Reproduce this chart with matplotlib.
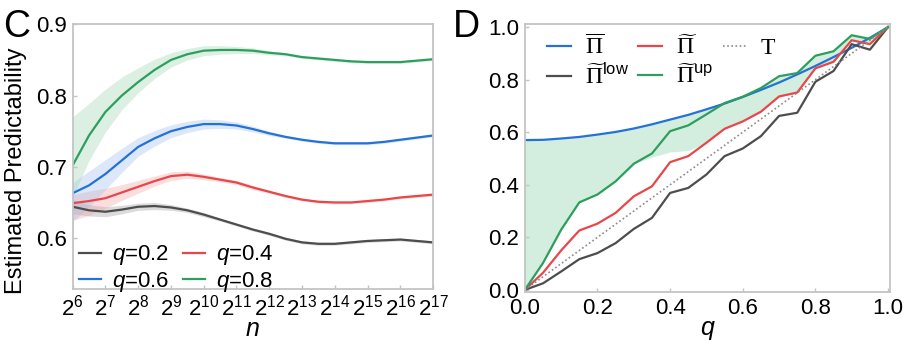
import numpy as np
import matplotlib
matplotlib.use("Agg")
import matplotlib.pyplot as plt

plt.rcParams['font.family'] = ['Liberation Sans', 'DejaVu Sans']
plt.rcParams['mathtext.fontset'] = 'custom'
plt.rcParams['mathtext.rm'] = 'Liberation Serif'
plt.rcParams['mathtext.it'] = 'Liberation Sans:italic'
plt.rcParams['mathtext.sf'] = 'Liberation Sans'
plt.rcParams['mathtext.bf'] = 'Liberation Sans:bold'

# ---------------- Panel C data ----------------
log2_n = [6, 6.5, 7, 7.5, 8, 8.5, 9, 9.5, 10, 10.5, 11, 11.5, 12, 12.5,
          13, 13.5, 14, 14.5, 15, 15.5, 16, 16.5, 17]
q_labels = ['0.2', '0.4', '0.6', '0.8']
pred_q02 = [0.644, 0.639, 0.637, 0.640, 0.644, 0.645, 0.643, 0.639, 0.633, 0.626,
            0.619, 0.612, 0.606, 0.599, 0.594, 0.592, 0.592, 0.594, 0.596, 0.597,
            0.598, 0.596, 0.594]
pred_q04 = [0.649, 0.652, 0.656, 0.664, 0.672, 0.680, 0.687, 0.689, 0.686, 0.682,
            0.678, 0.671, 0.665, 0.659, 0.654, 0.651, 0.650, 0.650, 0.652, 0.654,
            0.657, 0.659, 0.661]
pred_q06 = [0.663, 0.674, 0.690, 0.709, 0.728, 0.740, 0.750, 0.756, 0.760, 0.760,
            0.758, 0.753, 0.747, 0.742, 0.738, 0.735, 0.733, 0.733, 0.733, 0.735,
            0.738, 0.741, 0.744]
pred_q08 = [0.702, 0.744, 0.777, 0.800, 0.819, 0.836, 0.850, 0.858, 0.863, 0.864,
            0.864, 0.863, 0.860, 0.858, 0.854, 0.852, 0.850, 0.848, 0.847, 0.847,
            0.847, 0.849, 0.851]
# band extents (below / above the line)
low_q02 = [0.010, 0.008, 0.007, 0.006, 0.005, 0.005, 0.004, 0.003, 0.003, 0.002, 0.002, 0.002,
           0.002, 0.002, 0.002, 0.002, 0.002, 0.002, 0.002, 0.002, 0.002, 0.002, 0.002]
up_q02 = low_q02
low_q04 = [0.024, 0.020, 0.014, 0.011, 0.009, 0.007, 0.006, 0.005, 0.004, 0.003, 0.003, 0.003,
           0.002, 0.002, 0.002, 0.002, 0.002, 0.002, 0.002, 0.002, 0.002, 0.002, 0.002]
up_q04 = [0.012, 0.014, 0.014, 0.011, 0.009, 0.007, 0.006, 0.005, 0.004, 0.003, 0.003, 0.003,
          0.002, 0.002, 0.002, 0.002, 0.002, 0.002, 0.002, 0.002, 0.002, 0.002, 0.002]
low_q06 = [0.040, 0.030, 0.022, 0.017, 0.013, 0.011, 0.009, 0.008, 0.007, 0.006, 0.005, 0.004,
           0.003, 0.002, 0.002, 0.002, 0.002, 0.002, 0.002, 0.002, 0.002, 0.002, 0.002]
up_q06 = [0.015, 0.020, 0.020, 0.017, 0.013, 0.011, 0.009, 0.008, 0.007, 0.006, 0.005, 0.004,
          0.003, 0.002, 0.002, 0.002, 0.002, 0.002, 0.002, 0.002, 0.002, 0.002, 0.002]
low_q08 = [0.045, 0.035, 0.028, 0.020, 0.015, 0.012, 0.010, 0.008, 0.007, 0.006, 0.005, 0.004,
           0.003, 0.002, 0.002, 0.002, 0.002, 0.002, 0.002, 0.002, 0.002, 0.002, 0.002]
up_q08 = [0.068, 0.045, 0.032, 0.026, 0.020, 0.015, 0.010, 0.008, 0.007, 0.006, 0.005, 0.004,
          0.003, 0.002, 0.002, 0.002, 0.002, 0.002, 0.002, 0.002, 0.002, 0.002, 0.002]
xtick_exp = list(range(6, 18))
yticks_C = [0.6, 0.7, 0.8, 0.9]

# ---------------- Panel D data ----------------
q_vals = [0.0, 0.05, 0.1, 0.15, 0.2, 0.25, 0.3, 0.35, 0.4, 0.45, 0.5, 0.55,
          0.6, 0.65, 0.7, 0.75, 0.8, 0.85, 0.9, 0.95, 1.0]
pi_bar = [0.570, 0.571, 0.576, 0.582, 0.591, 0.601, 0.614, 0.630, 0.648, 0.666, 0.687,
          0.709, 0.734, 0.761, 0.789, 0.820, 0.852, 0.886, 0.921, 0.959, 1.0]
pi_tilde = [0.0, 0.065, 0.150, 0.226, 0.252, 0.293, 0.356, 0.394, 0.486, 0.509, 0.560,
            0.613, 0.641, 0.678, 0.736, 0.751, 0.843, 0.868, 0.950, 0.935, 1.0]
pi_low = [0.0, 0.025, 0.070, 0.117, 0.140, 0.178, 0.232, 0.274, 0.369, 0.388, 0.439,
          0.509, 0.538, 0.585, 0.662, 0.674, 0.792, 0.833, 0.935, 0.914, 1.0]
pi_up = [0.0, 0.102, 0.229, 0.333, 0.363, 0.413, 0.480, 0.519, 0.604, 0.626, 0.668,
         0.711, 0.735, 0.768, 0.813, 0.825, 0.891, 0.908, 0.969, 0.955, 1.0]
# lower edge of the shaded region
fill_lower = [0.0, 0.102, 0.229, 0.333, 0.363, 0.413, 0.480, 0.505, 0.525, 0.530, 0.560,
              0.613, 0.641, 0.678, 0.736, 0.751, 0.843, 0.868, 0.950, 0.935, 1.0]
ticks_D = [0.0, 0.2, 0.4, 0.6, 0.8, 1.0]

c_gray = '#4d4d4d'
c_red = '#e8474a'
c_blue = '#2471d8'
c_green = '#2e9e5e'
spine_c = '#c4c4c4'

fig = plt.figure(figsize=(9.08, 3.47), dpi=100)
axC = fig.add_axes([0.080, 0.168, 0.397, 0.764])
axD = fig.add_axes([0.578, 0.1585, 0.402, 0.771])

# ---------- Panel C ----------
n = 2.0 ** np.array(log2_n)
series = [(pred_q02, low_q02, up_q02, c_gray, '#9a9a9a'),
          (pred_q04, low_q04, up_q04, c_red, '#f2a0a0'),
          (pred_q06, low_q06, up_q06, c_blue, '#9dbff0'),
          (pred_q08, low_q08, up_q08, c_green, '#98d3b0')]
handles = []
for (vals, lo, hi, col, fcol), lab in zip(series, q_labels):
    v = np.array(vals)
    axC.fill_between(n, v - np.array(lo), v + np.array(hi), color=fcol, alpha=0.35, lw=0)
    h, = axC.plot(n, v, color=col, lw=1.6, label=r'$q$=' + lab)
    handles.append(h)
axC.set_xscale('log', base=2)
axC.set_xlim(2.0 ** 6, 2.0 ** 17)
axC.set_ylim(0.529, 0.901)
axC.set_xticks([2.0 ** k for k in xtick_exp])
axC.set_xticklabels([r'$\mathsf{2^{%d}}$' % k for k in xtick_exp])
axC.xaxis.set_minor_locator(matplotlib.ticker.NullLocator())
axC.set_yticks(yticks_C)
axC.set_yticklabels(['%.1f' % t for t in yticks_C])
axC.set_xlabel('n', fontsize=18, style='italic', labelpad=-2)
axC.set_ylabel('Estimated Predictability', fontsize=17)
axC.yaxis.set_label_coords(-0.127, 0.445)
order = [0, 2, 1, 3]
axC.legend([handles[i] for i in order], [handles[i].get_label() for i in order],
           ncol=2, loc='lower left', bbox_to_anchor=(0.005, -0.035), frameon=False,
           fontsize=16, handlelength=1.0, handletextpad=0.5, columnspacing=0.6,
           labelspacing=0.1, borderaxespad=0.0, borderpad=0.2)

# ---------- Panel D ----------
q = np.array(q_vals)
pb = np.array(pi_bar)
pu = np.array(pi_up)
top_edge = np.maximum(pb, pu)
axD.fill_between(q, top_edge, np.array(fill_lower), color='#9fd8b8', alpha=0.45, lw=0)
hb, = axD.plot(q, pb, color=c_blue, lw=1.6, label=r'$\overline{\Pi}$')
hl, = axD.plot(q, pi_low, color=c_gray, lw=1.6, label=r'$\widetilde{\Pi}^{\mathsf{low}}$')
ht, = axD.plot(q, pi_tilde, color=c_red, lw=1.6, label=r'$\widetilde{\Pi}$')
hu, = axD.plot(q, pi_up, color=c_green, lw=1.6, label=r'$\widetilde{\Pi}^{\mathsf{up}}$')
hT, = axD.plot(q, q, color='#8a8a8a', lw=1.2, ls=(0, (1, 1.5)), label=r'$\mathrm{T}$')
axD.set_xlim(0, 1.005)
axD.set_ylim(-0.008, 1.01)
axD.set_xticks(ticks_D)
axD.set_xticklabels(['%.1f' % t for t in ticks_D])
axD.set_yticks(ticks_D)
axD.set_yticklabels(['%.1f' % t for t in ticks_D])
axD.set_xlabel('q', fontsize=18, style='italic', labelpad=-2)
axD.legend([hb, hl, ht, hu, hT], [h.get_label() for h in [hb, hl, ht, hu, hT]],
           ncol=3, loc='upper left', bbox_to_anchor=(0.035, 0.995), frameon=False,
           fontsize=17, handlelength=1.0, handletextpad=0.6, columnspacing=0.4,
           labelspacing=0.2, borderaxespad=0.2, borderpad=0.2)

for ax in (axC, axD):
    for s in ax.spines.values():
        s.set_color(spine_c)
        s.set_linewidth(1.3)
    ax.tick_params(direction='in', length=3, width=1, color=spine_c,
                   labelsize=16, pad=4)

fig.text(0.003, 0.892, 'C', fontsize=27, va='baseline', ha='left')
fig.text(0.499, 0.894, 'D', fontsize=27, va='baseline', ha='left')

fig.savefig('out.png', dpi=100)
